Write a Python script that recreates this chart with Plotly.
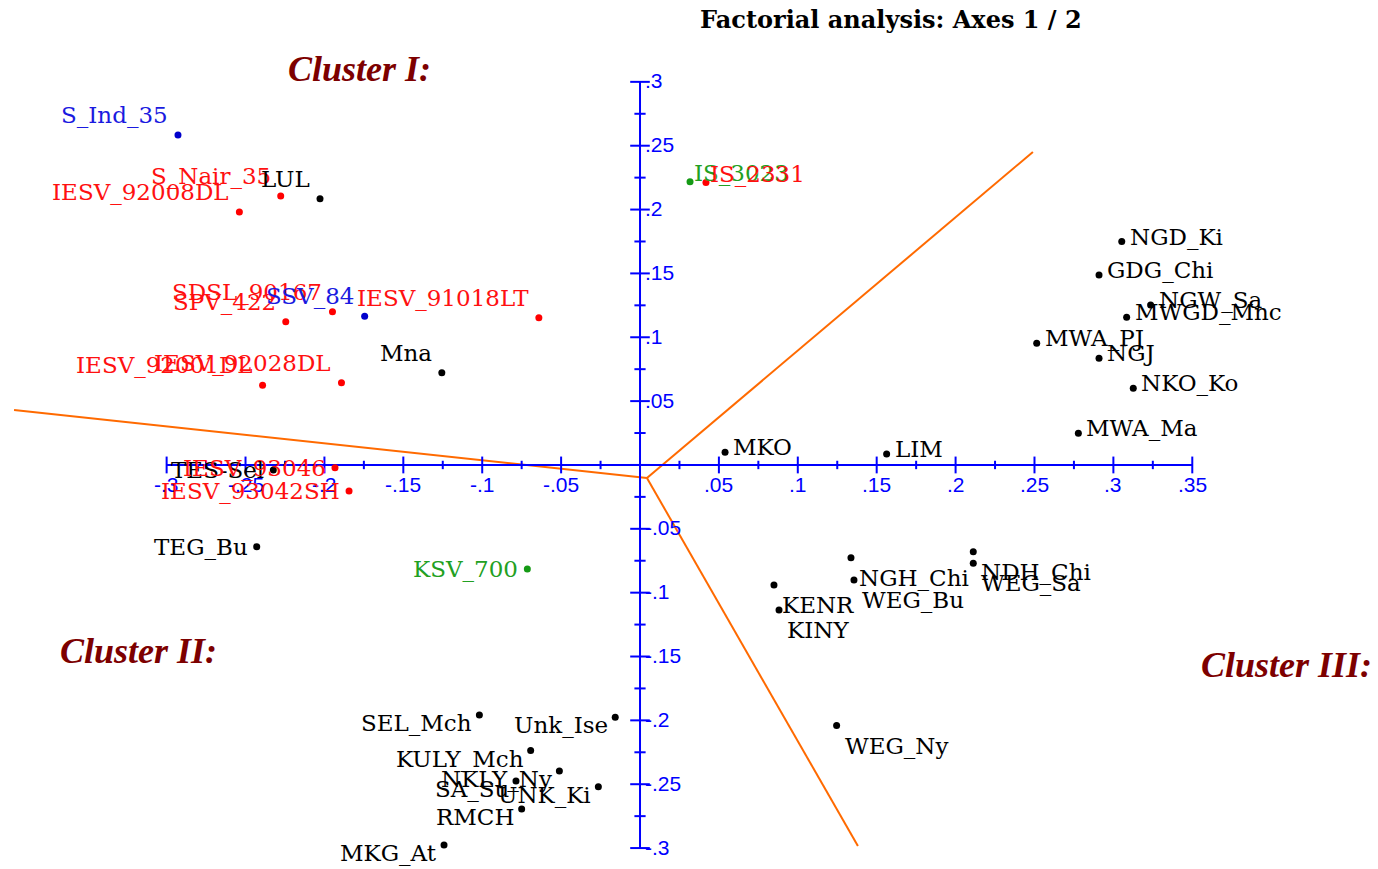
import plotly.graph_objects as go

# ---------------- data ----------------
names = [
    "S_Ind_35", "S_Nair_35", "LUL", "IESV_92008DL", "SPV_422", "SDSL_90167",
    "SSV_84", "IESV_91018LT", "Mna", "IESV_92001DL", "IESV_92028DL",
    "TES-Sel", "IESV_93046", "IESV_93042SH", "TEG_Bu", "KSV_700",
    "IS_3023", "IS_2331",
    "SEL_Mch", "Unk_Ise", "KULY_Mch", "NKLY_Ny", "SA_Su", "UNK_Ki", "RMCH", "MKG_At",
    "NGD_Ki", "GDG_Chi", "NGW_Sa", "MWGD_Mnc", "MWA_PJ", "NGJ", "NKO_Ko", "MWA_Ma",
    "MKO", "LIM",
    "NGH_Chi", "WEG_Bu", "NDH_Chi", "WEG_Sa", "KENR", "KINY", "WEG_Ny",
]
axis1 = [
    -0.2928, -0.2277, -0.2028, -0.2539, -0.2245, -0.1949,
    -0.1745, -0.0641, -0.1256, -0.2392, -0.1892,
    -0.2324, -0.1933, -0.1844, -0.2429, -0.0714,
    0.0317, 0.0418,
    -0.1018, -0.0157, -0.0693, -0.0511, -0.0786, -0.0264, -0.0750, -0.1242,
    0.3053, 0.2909, 0.3236, 0.3084, 0.2514, 0.2909, 0.3126, 0.2778,
    0.0539, 0.1563,
    0.1337, 0.1356, 0.2112, 0.2112, 0.0849, 0.0881, 0.1246,
]
axis2 = [
    0.2584, 0.2106, 0.2085, 0.1981, 0.1122, 0.1200,
    0.1164, 0.1153, 0.0723, 0.0624, 0.0644,
    -0.0039, -0.0021, -0.0204, -0.0640, -0.0814,
    0.2218, 0.2211,
    -0.1958, -0.1976, -0.2237, -0.2396, -0.2475, -0.2519, -0.2694, -0.2976,
    0.1749, 0.1488, 0.1253, 0.1157, 0.0953, 0.0836, 0.0601, 0.0248,
    0.0099, 0.0086,
    -0.0726, -0.0901, -0.0679, -0.0770, -0.0940, -0.1135, -0.2041,
]
groups = [
    "blue", "red", "black", "red", "red", "red",
    "blue", "red", "black", "red", "red",
    "black", "red", "red", "black", "green",
    "green", "red",
    "black", "black", "black", "black", "black", "black", "black", "black",
    "black", "black", "black", "black", "black", "black", "black", "black",
    "black", "black",
    "black", "black", "black", "black", "black", "black", "black",
]
label_side = [
    "ul", "ul", "ul", "ul", "ul", "ul",
    "ul", "ul", "ul", "ul", "ul",
    "l", "l", "l", "l", "l",
    "ur", "ur",
    "ll", "ll", "ll", "ll", "ll", "ll", "ll", "ll",
    "r", "r", "r", "r", "r", "r", "r", "r",
    "r", "r",
    "lr", "lr", "lr", "lr", "lr", "lr", "lr",
]

# cluster separation lines (centre and three ends)
sep_centre = (0.0044, -0.0102)
sep_ends_x = [-0.3967, 0.2490, 0.1381]
sep_ends_y = [0.0431, 0.2451, -0.2984]

# axis ticks
x_major = [-0.3, -0.25, -0.2, -0.15, -0.1, -0.05, 0.0, 0.05, 0.1, 0.15, 0.2, 0.25, 0.3, 0.35]
x_minor = [-0.275, -0.225, -0.175, -0.125, -0.075, -0.025, 0.025, 0.075, 0.125, 0.175, 0.225, 0.275, 0.325]
x_labels = ["-.3", "-.25", "-.2", "-.15", "-.1", "-.05", "", ".05", ".1", ".15", ".2", ".25", ".3", ".35"]
y_major = [-0.3, -0.25, -0.2, -0.15, -0.1, -0.05, 0.0, 0.05, 0.1, 0.15, 0.2, 0.25, 0.3]
y_minor = [-0.275, -0.225, -0.175, -0.125, -0.075, -0.025, 0.025, 0.075, 0.125, 0.175, 0.225, 0.275]
y_labels = ["-.3", "-.25", "-.2", "-.15", "-.1", "-.05", "", ".05", ".1", ".15", ".2", ".25", ".3"]

title_text = "Factorial analysis: Axes 1 / 2"
cluster_names = ["Cluster I:", "Cluster II:", "Cluster III:"]
cluster_x = [-0.178, -0.318, 0.410]
cluster_y = [0.310, -0.146, -0.157]

# ---------------- styles ----------------
dot_colors = {"black": "#000000", "red": "#ff0000", "blue": "#0000cc", "green": "#159a15"}
text_colors = {"black": "#000000", "red": "#ff1010", "blue": "#1a1ae0", "green": "#22a022"}
side_style = {
    "ul": dict(xanchor="right", yanchor="middle", xshift=-8, yshift=20),
    "ur": dict(xanchor="left", yanchor="middle", xshift=2, yshift=9),
    "l": dict(xanchor="right", yanchor="middle", xshift=-7, yshift=0),
    "ll": dict(xanchor="right", yanchor="middle", xshift=-5, yshift=-8),
    "r": dict(xanchor="left", yanchor="middle", xshift=6, yshift=5),
    "lr": dict(xanchor="left", yanchor="middle", xshift=6, yshift=-20),
}
AXIS_BLUE = "#0000ff"
ORANGE = "#ff6a00"
LABEL_FONT = "DejaVu Serif"

fig = go.Figure()

# separation lines
for ex, ey in zip(sep_ends_x, sep_ends_y):
    fig.add_trace(go.Scatter(
        x=[sep_centre[0], ex], y=[sep_centre[1], ey], mode="lines",
        line=dict(color=ORANGE, width=2), hoverinfo="skip", showlegend=False))

# axes lines
fig.add_trace(go.Scatter(x=[min(x_major), max(x_major)], y=[0, 0], mode="lines",
                         line=dict(color=AXIS_BLUE, width=2), hoverinfo="skip", showlegend=False))
fig.add_trace(go.Scatter(x=[0, 0], y=[min(y_major), max(y_major)], mode="lines",
                         line=dict(color=AXIS_BLUE, width=2), hoverinfo="skip", showlegend=False))
# tick marks
fig.add_trace(go.Scatter(x=x_major, y=[0] * len(x_major), mode="markers",
                         marker=dict(symbol="line-ns", size=12, line=dict(color=AXIS_BLUE, width=2)),
                         hoverinfo="skip", showlegend=False))
fig.add_trace(go.Scatter(x=x_minor, y=[0] * len(x_minor), mode="markers",
                         marker=dict(symbol="line-ns", size=6, line=dict(color=AXIS_BLUE, width=2)),
                         hoverinfo="skip", showlegend=False))
fig.add_trace(go.Scatter(x=[0] * len(y_major), y=y_major, mode="markers",
                         marker=dict(symbol="line-ew", size=14, line=dict(color=AXIS_BLUE, width=2)),
                         hoverinfo="skip", showlegend=False))
fig.add_trace(go.Scatter(x=[0] * len(y_minor), y=y_minor, mode="markers",
                         marker=dict(symbol="line-ew", size=8, line=dict(color=AXIS_BLUE, width=2)),
                         hoverinfo="skip", showlegend=False))

annotations = []
for v, lab in zip(x_major, x_labels):
    if lab:
        annotations.append(dict(x=v, y=0, text=lab, showarrow=False, xanchor="center", yanchor="middle",
                                yshift=-20, font=dict(family="Liberation Sans", size=21, color=AXIS_BLUE)))
for v, lab in zip(y_major, y_labels):
    if lab:
        annotations.append(dict(x=0, y=v, text=lab, showarrow=False, xanchor="left", yanchor="middle",
                                xshift=3, yshift=1, font=dict(family="Liberation Sans", size=21, color=AXIS_BLUE)))

# points
for g in ["black", "red", "blue", "green"]:
    idx = [i for i, gg in enumerate(groups) if gg == g]
    fig.add_trace(go.Scatter(
        x=[axis1[i] for i in idx], y=[axis2[i] for i in idx], mode="markers",
        marker=dict(size=7, color=dot_colors[g]), text=[names[i] for i in idx],
        hoverinfo="text", showlegend=False))

for n, xv, yv, g, s in zip(names, axis1, axis2, groups, label_side):
    annotations.append(dict(x=xv, y=yv, text=n, showarrow=False,
                            font=dict(family=LABEL_FONT, size=23, color=text_colors[g]),
                            **side_style[s]))

for t, cx, cy in zip(cluster_names, cluster_x, cluster_y):
    annotations.append(dict(x=cx, y=cy, text="<b><i>" + t + "</i></b>", showarrow=False,
                            xanchor="center", yanchor="middle",
                            font=dict(family="Liberation Serif", size=36, color="#7d0000")))

annotations.append(dict(x=0.6465, y=0.978, xref="paper", yref="paper", text="<b>" + title_text + "</b>",
                        showarrow=False, xanchor="center", yanchor="middle",
                        font=dict(family="DejaVu Serif", size=24, color="#000000")))

fig.update_layout(
    width=1378, height=869,
    margin=dict(l=0, r=0, t=0, b=0),
    paper_bgcolor="white", plot_bgcolor="white",
    xaxis=dict(range=[-0.4056, 0.4677], visible=False, fixedrange=True),
    yaxis=dict(range=[-0.3164, 0.3641], visible=False, fixedrange=True),
    annotations=annotations,
    showlegend=False,
)

fig.write_html("out.html", config={"displayModeBar": False},
               post_script="document.body.style.margin='0';document.body.style.overflow='hidden';")
